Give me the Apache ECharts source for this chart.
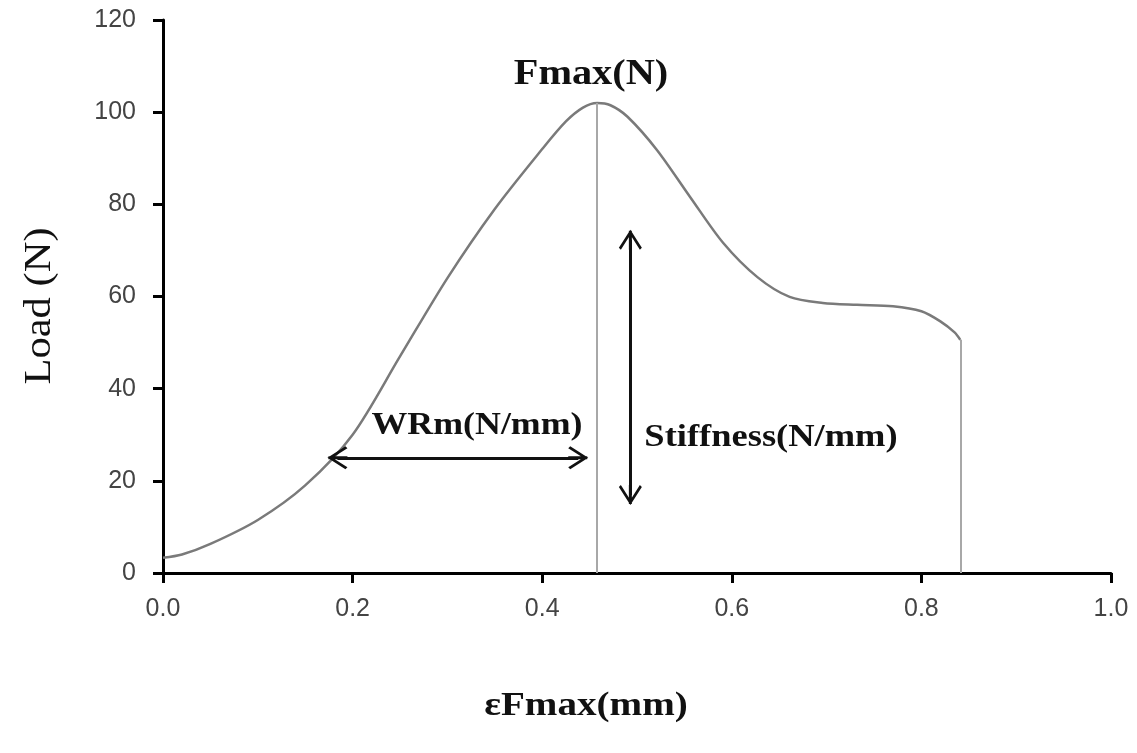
<!DOCTYPE html>
<html>
<head>
<meta charset="utf-8">
<script src="https://cdn.jsdelivr.net/npm/echarts@6/dist/echarts.min.js"></script>
<style>
  html, body { margin: 0; padding: 0; background: #fff; }
  #main { width: 1137px; height: 753px; }
</style>
</head>
<body>
<div id="main"></div>
<script>
// strain (mm) and load (N)
var strain = [0, 0.02, 0.05, 0.1, 0.15, 0.2, 0.25, 0.3, 0.35, 0.4, 0.425, 0.443, 0.458,
              0.472, 0.49, 0.521, 0.556, 0.591, 0.627, 0.661, 0.696, 0.732, 0.77, 0.8, 0.82, 0.835, 0.841];
var load = [3.3, 4.0, 6.3, 11.5, 19, 30, 47, 64, 79, 92, 98, 101, 102,
            101.5, 99, 91.8, 81.6, 71.6, 64.2, 59.9, 58.6, 58.2, 57.9, 56.8, 54.6, 52.2, 50.6];

var xTicks = [0, 0.2, 0.4, 0.6, 0.8, 1.0];
var yTicks = [0, 20, 40, 60, 80, 100, 120];

// annotation arrows, given as arrow-head centres in data units
var wrmArrow = [[0.184, 25], [0.438, 25]];
var stiffArrow = [[0.493, 72.3], [0.493, 16.9]];

var curve = strain.map(function (x, i) { return [x, load[i]]; });
var peakIdx = 0;
for (var i = 0; i < load.length; i++) {
    if (load[i] > load[peakIdx]) peakIdx = i;
}
var lastIdx = load.length - 1;

var chevron = 'path://M0,0 L11.5,18 L9.5,20 L0,5 L-9.5,20 L-11.5,18 Z M-1.5,1 L1.5,1 L1.5,20 L-1.5,20 Z';
var serifBold = 'bold 32px "Liberation Serif", "DejaVu Serif", serif';

var chart = echarts.init(document.getElementById('main'));

var option = {
    backgroundColor: '#fff',
    animation: false,
    grid: { left: 163, right: 26, top: 20, bottom: 180, containLabel: false },
    xAxis: {
        type: 'value',
        min: xTicks[0],
        max: xTicks[xTicks.length - 1],
        interval: xTicks[1] - xTicks[0],
        splitLine: { show: false },
        axisLine: { lineStyle: { color: '#000', width: 3 } },
        axisTick: { length: 10, lineStyle: { color: '#000', width: 3 } },
        axisLabel: {
            margin: 24,
            color: '#444',
            fontSize: 25,
            fontFamily: '"Liberation Sans", Arial, sans-serif',
            formatter: function (v) { return v.toFixed(1); }
        }
    },
    yAxis: {
        type: 'value',
        min: yTicks[0],
        max: yTicks[yTicks.length - 1],
        interval: yTicks[1] - yTicks[0],
        splitLine: { show: false },
        axisLine: { lineStyle: { color: '#000', width: 3 } },
        axisTick: { length: 10, lineStyle: { color: '#000', width: 3 } },
        axisLabel: {
            margin: 27,
            color: '#444',
            fontSize: 25,
            fontFamily: '"Liberation Sans", Arial, sans-serif'
        }
    },
    series: [
        {
            name: 'guides',
            type: 'line',
            data: [],
            markLine: {
                silent: true,
                symbol: 'none',
                label: { show: false },
                lineStyle: { color: '#a8a8a8', width: 2, type: 'solid' },
                data: [
                    [{ coord: [strain[peakIdx], 0] }, { coord: [strain[peakIdx], load[peakIdx]] }],
                    [{ coord: [strain[lastIdx], 0] }, { coord: [strain[lastIdx], load[lastIdx]] }]
                ]
            }
        },
        {
            name: 'Load',
            type: 'line',
            data: curve,
            smooth: 0.3,
            showSymbol: false,
            lineStyle: { color: '#7a7a7a', width: 2.5 }
        },
        {
            name: 'arrows',
            type: 'line',
            data: [],
            markLine: {
                silent: true,
                symbol: [chevron, chevron],
                symbolSize: [23, 20],
                label: { show: false },
                itemStyle: { color: '#111' },
                lineStyle: { color: '#111', width: 3, type: 'solid' },
                data: [
                    [{ coord: wrmArrow[0] }, { coord: wrmArrow[1] }],
                    [{ coord: stiffArrow[0] }, { coord: stiffArrow[1] }]
                ]
            }
        }
    ],
    graphic: [
        {
            type: 'text', x: 591, y: 75, scaleX: 1.12,
            style: { text: 'Fmax(N)', font: 'bold 36px "Liberation Serif", serif', fill: '#111', align: 'center', verticalAlign: 'middle' }
        },
        {
            type: 'text', x: 477, y: 426, scaleX: 1.12,
            style: { text: 'WRm(N/mm)', font: serifBold, fill: '#111', align: 'center', verticalAlign: 'middle' }
        },
        {
            type: 'text', x: 771, y: 438, scaleX: 1.14,
            style: { text: 'Stiffness(N/mm)', font: serifBold, fill: '#111', align: 'center', verticalAlign: 'middle' }
        },
        {
            type: 'text', x: 586, y: 706, scaleX: 1.15,
            style: { text: 'εFmax(mm)', font: 'bold 34px "Liberation Serif", serif', fill: '#111', align: 'center', verticalAlign: 'middle' }
        },
        {
            type: 'text', x: 40, y: 306, rotation: Math.PI / 2, scaleX: 1.12,
            style: { text: 'Load (N)', font: '38px "Liberation Serif", serif', fill: '#111', align: 'center', verticalAlign: 'middle' }
        }
    ]
};

chart.setOption(option);
</script>
</body>
</html>
